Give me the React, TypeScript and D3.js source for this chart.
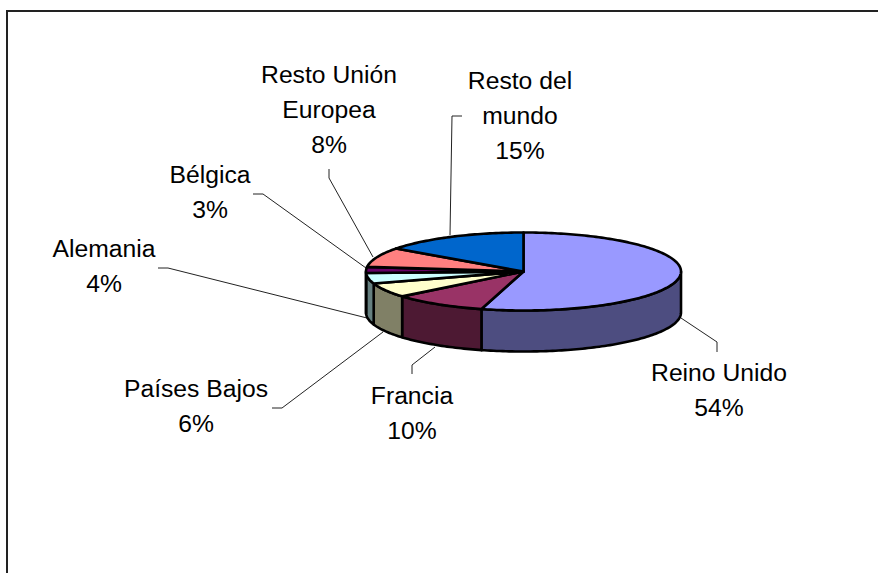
import * as d3 from "d3";

const categories = ["Reino Unido", "Francia", "Países Bajos", "Alemania", "Bélgica", "Resto Unión Europea", "Resto del mundo"];
const shares = [54.3, 9.7, 6, 4.4, 2.5, 8.1, 15];
const topColors = ["#9999ff", "#993366", "#ffffcc", "#ccffff", "#660066", "#ff8080", "#0066cc"];
const sideColors = ["#4d4d80", "#4d1933", "#808066", "#668080", "#330033", "#804040", "#003366"];
// label text lines, one list per slice
const labelLines = [["Reino Unido"], ["Francia"], ["Países Bajos"], ["Alemania"], ["Bélgica"], ["Resto Unión", "Europea"], ["Resto del", "mundo"]];
const labelAnchors = [[719, 381], [412, 404], [196, 397], [104, 257], [210, 183], [329, 83], [520, 89]];
const leaders = [
  [[681, 318], [717, 342], [717, 352]],
  [[435, 347], [412, 365], [412, 374]],
  [[383, 332], [282, 408], [272, 408]],
  [[367, 318], [168, 268], [158, 268]],
  [[366, 268], [263, 194], [253, 194]],
  [[373, 257], [329, 178], [329, 169]],
  [[450, 235], [452, 116], [462, 116]]
];

const width = 878;
const height = 573;
const cx = 523.5;
const cy = 271.5;
const rx = 157.5;
const ry = 39;
const depth = 41;

const pt = (a: number, dy = 0): [number, number] => [cx + rx * Math.sin(a), cy - ry * Math.cos(a) + dy];

function arcPoints(a0: number, a1: number, dy = 0) {
  const n = Math.max(2, Math.ceil(Math.abs(a1 - a0) / 0.02));
  return d3.range(n + 1).map(i => pt(a0 + (a1 - a0) * i / n, dy));
}

export default function App() {
  const slices = d3.pie<number>().sort(null).startAngle(0).endAngle(2 * Math.PI)(shares);
  const line = d3.line();
  const leaderLine = d3.line();

  // only the front half of the rim is visible
  const walls = slices.map((s, i) => {
    const a0 = Math.max(s.startAngle, Math.PI / 2);
    const a1 = Math.min(s.endAngle, 3 * Math.PI / 2);
    if (a1 <= a0) return null;
    const pts = [...arcPoints(a0, a1), ...arcPoints(a1, a0, depth)];
    return <path key={i} d={line(pts) + "Z"} fill={sideColors[i]} stroke="#000" strokeWidth={2.6} strokeLinejoin="round" />;
  });

  const tops = slices.map((s, i) => {
    const pts: [number, number][] = [[cx, cy], ...arcPoints(s.startAngle, s.endAngle)];
    return <path key={i} d={line(pts) + "Z"} fill={topColors[i]} stroke="#000" strokeWidth={2.6} strokeLinejoin="round" />;
  });

  return (
    <svg width={width} height={height} style={{position: "absolute", left: 0, top: 0, background: "#fff"}}>
      <path d="M7 573V11H878" fill="none" stroke="#222" strokeWidth={2} />
      {leaders.map((l, i) => (
        <path key={i} d={leaderLine(l as [number, number][])!} fill="none" stroke="#222" strokeWidth={1} />
      ))}
      {walls}
      {tops}
      {categories.map((c, i) => {
        const lines = [...labelLines[i], Math.round(shares[i]) + "%"];
        return (
          <text key={c} x={labelAnchors[i][0]} y={labelAnchors[i][1]} textAnchor="middle"
                fontFamily="'Liberation Sans', Arial, sans-serif" fontSize={24.7} fill="#000">
            {lines.map((t, j) => <tspan key={j} x={labelAnchors[i][0]} dy={j === 0 ? 0 : 35}>{t}</tspan>)}
          </text>
        );
      })}
    </svg>
  );
}
